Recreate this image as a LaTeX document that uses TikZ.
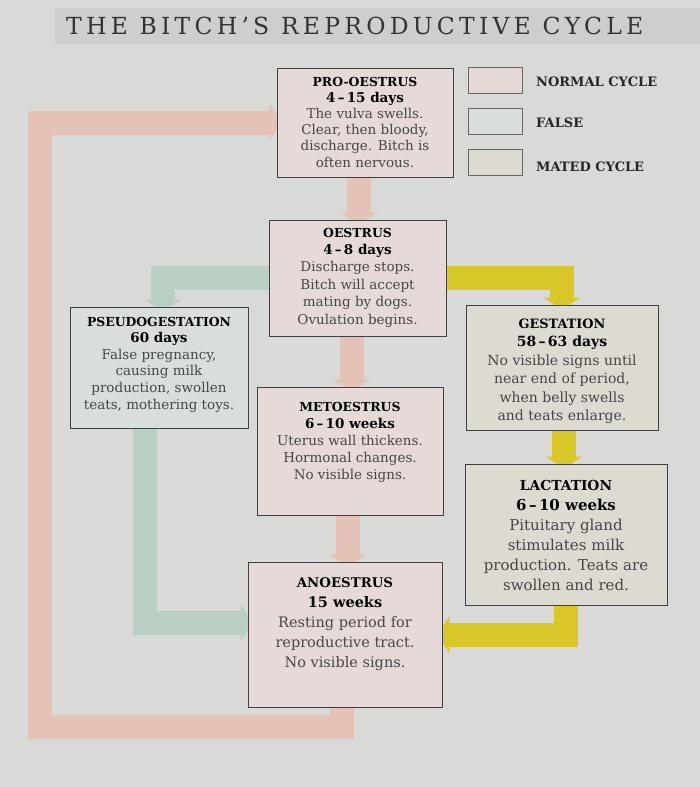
\documentclass[tikz,border=0pt]{standalone}
\usepackage{fontspec}
\setmainfont{DejaVu Serif}
\usetikzlibrary{positioning,arrows.meta}

\definecolor{pagegray}{HTML}{D9D9D7}
\definecolor{bandgray}{HTML}{CECECD}
\definecolor{normfill}{HTML}{E6DAD8}
\definecolor{falsefill}{HTML}{DADEDA}
\definecolor{matedfill}{HTML}{DDDAD2}
\definecolor{normflow}{HTML}{E4C2B7}
\definecolor{falseflow}{HTML}{B9CFC4}
\definecolor{matedflow}{HTML}{D9C72A}

\pgfdeclarelayer{paper}
\pgfdeclarelayer{flows}
\pgfsetlayers{paper,flows,main}

\newcommand\stagehead[1]{{\color{black}\bfseries\addfontfeature{Scale=0.92}#1}}
\newcommand\stagetime[1]{{\color{black}\bfseries #1}}

\begin{document}
\begin{tikzpicture}[
    x=1pt,y=-1pt,
    stagebox/.style={draw=black!75,line width=0.7pt,inner sep=0pt},
    stagetext/.style={align=center,inner sep=0pt,text=black!72},
    flow/.style={line width=24pt,line join=miter,shorten >=-5pt,
      -{Triangle[width=36pt,length=12pt]}},
    keybox/.style={draw=black!60,line width=0.6pt,minimum width=54pt,minimum height=26pt},
    keytext/.style={anchor=west,inner sep=0pt,text=black!85,
      font=\bfseries\fontsize{13}{15}\selectfont}
    ]
    \useasboundingbox (0,0) rectangle (700,787);
    \begin{pgfonlayer}{paper}
      \fill[pagegray] (0,0) rectangle (700,787);
      \fill[bandgray] (55,8) rectangle (700,44);
    \end{pgfonlayer}
    \node[anchor=west,inner sep=0pt,text=black!80,
      font=\fontsize{23.5}{26}\selectfont\addfontfeature{LetterSpace=18}] (title) at (66,26)
      {THE BITCH'S REPRODUCTIVE CYCLE};

    % legend
    \node[keybox,fill=normfill] (knorm) at (495,80) {};
    \node[keybox,fill=falsefill] (kfalse) at (495,121) {};
    \node[keybox,fill=matedfill] (kmated) at (495,162.5) {};
    \node[keytext] (lnorm) at (536,82) {NORMAL CYCLE};
    \node[keytext] (lfalse) at (536,123) {FALSE};
    \node[keytext] (lmated) at (536,167) {MATED CYCLE};

    % stages
    \node[stagebox,fill=normfill,minimum width=176,minimum height=109] (pro) at (365,122.5) {};
    \node[stagebox,fill=normfill,minimum width=177,minimum height=116] (oes) at (357.5,278) {};
    \node[stagebox,fill=falsefill,minimum width=178,minimum height=121] (pseudo) at (159,367.5) {};
    \node[stagebox,fill=matedfill,minimum width=192,minimum height=125] (gest) at (562,367.5) {};
    \node[stagebox,fill=normfill,minimum width=186,minimum height=128] (meto) at (350,451) {};
    \node[stagebox,fill=matedfill,minimum width=202,minimum height=141] (lact) at (566,534.5) {};
    \node[stagebox,fill=normfill,minimum width=194,minimum height=145] (ano) at (345,634.5) {};

    \node[stagetext,font=\fontsize{13.5}{16.2}\selectfont,below=9pt of pro.north] (proT)
      {\stagehead{PRO-OESTRUS}\\\stagetime{4\,--\,15 days}\\The vulva swells.\\
       Clear, then bloody,\\discharge. Bitch is\\often nervous.};
    \node[stagetext,font=\fontsize{13.5}{17.4}\selectfont,below=8pt of oes.north] (oesT)
      {\stagehead{OESTRUS}\\\stagetime{4\,--\,8 days}\\Discharge stops.\\
       Bitch will accept\\mating by dogs.\\Ovulation begins.};
    \node[stagetext,font=\fontsize{13.5}{16.6}\selectfont,below=10pt of pseudo.north] (pseudoT)
      {\stagehead{PSEUDOGESTATION}\\\stagetime{60 days}\\False pregnancy,\\
       causing milk\\production, swollen\\teats, mothering toys.};
    \node[stagetext,font=\fontsize{14}{18.5}\selectfont,below=14pt of gest.north] (gestT)
      {\stagehead{GESTATION}\\\stagetime{58\,--\,63 days}\\No visible signs until\\
       near end of period,\\when belly swells\\and teats enlarge.};
    \node[stagetext,font=\fontsize{13.5}{17.2}\selectfont,below=15pt of meto.north] (metoT)
      {\stagehead{METOESTRUS}\\\stagetime{6\,--\,10 weeks}\\Uterus wall thickens.\\
       Hormonal changes.\\No visible signs.};
    \node[stagetext,font=\fontsize{15}{20}\selectfont,below=16pt of lact.north] (lactT)
      {\stagehead{LACTATION}\\\stagetime{6\,--\,10 weeks}\\Pituitary gland\\
       stimulates milk\\production. Teats are\\swollen and red.};
    \node[stagetext,font=\fontsize{14.5}{20}\selectfont,below=16pt of ano.north] (anoT)
      {\stagehead{ANOESTRUS}\\\stagetime{15 weeks}\\Resting period for\\
       reproductive tract.\\No visible signs.};

    \coordinate (loopcorner) at (40,727);

    \begin{pgfonlayer}{flows}
      % normal cycle
      \draw[flow,normflow] ([xshift=-6]pro.south) -- ([xshift=1.5]oes.north);
      \draw[flow,normflow] ([xshift=-6]oes.south) -- ([xshift=1.5]meto.north);
      \draw[flow,normflow] ([xshift=-2.5]meto.south) -- ([xshift=2.5]ano.north);
      \draw[flow,normflow] ([xshift=-3.5]ano.south) |- (loopcorner) |- (pro.west);
      % false
      \draw[flow,falseflow] (oes.west) -| ([xshift=4]pseudo.north);
      \draw[flow,falseflow] ([xshift=-14]pseudo.south) |- ([yshift=12]ano.west);
      % mated cycle
      \draw[flow,matedflow] (oes.east) -| (gest.north);
      \draw[flow,matedflow] ([xshift=2]gest.south) -- ([xshift=-2]lact.north);
      \draw[flow,matedflow] ([xshift=0]lact.south) |- (ano.east);
    \end{pgfonlayer}
\end{tikzpicture}
\end{document}
